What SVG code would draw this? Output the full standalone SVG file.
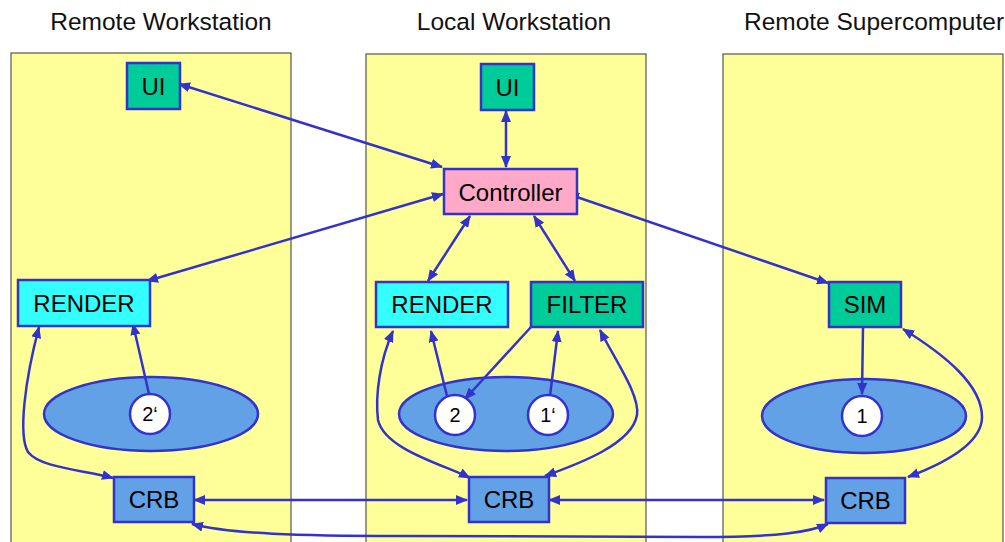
<svg xmlns="http://www.w3.org/2000/svg" width="1005" height="542" viewBox="0 0 1005 542">
<style>
.panel{fill:#FFFF99;stroke:#555;stroke-width:1.2}
.title{font-family:"Liberation Sans",Arial,sans-serif;font-size:24.5px;fill:#111;text-anchor:middle}
.box{stroke:#3333CC;stroke-width:2.5}
.lbl{font-family:"Liberation Sans",Arial,sans-serif;font-size:24px;fill:#000;text-anchor:middle}
.clbl{font-family:"Liberation Sans",Arial,sans-serif;font-size:20px;fill:#000;text-anchor:middle}
.green{fill:#00CC99}
.cyan{fill:#33FFFF}
.pink{fill:#FFA8C8}
.blue{fill:#62A1E6}
.white{fill:#FFFFFF}
.c{fill:none;stroke:#3333CC;stroke-width:2.5}
.d{marker-start:url(#ah);marker-end:url(#ah)}
.s{marker-end:url(#ah)}
</style>
<defs>
<marker id="ah" viewBox="0 0 12 10" refX="11" refY="5" markerWidth="12" markerHeight="10" markerUnits="userSpaceOnUse" orient="auto-start-reverse">
<path d="M0,0 L12,5 L0,10 Z" fill="#3333CC"/>
</marker>
</defs>
<rect width="1005" height="542" fill="#FFFFFF"/>
<g id="panels">
<rect class="panel" x="11" y="53" width="280" height="500"/>
<rect class="panel" x="366" y="54" width="280" height="500"/>
<rect class="panel" x="723" y="54" width="280" height="500"/>
<text class="title" x="161" y="29.5">Remote Workstation</text>
<text class="title" x="514" y="30">Local Workstation</text>
<text class="title" x="874" y="30">Remote Supercomputer</text>
</g>
<g id="ellipses">
<ellipse class="box blue" cx="151" cy="414" rx="107" ry="37"/>
<ellipse class="box blue" cx="506" cy="414" rx="107" ry="37"/>
<ellipse class="box blue" cx="864" cy="416" rx="102" ry="37"/>
</g>
<g id="connectors">
<path class="c d" d="M179,84 L442,167"/>
<path class="c d" d="M506,111 L506,167"/>
<path class="c d" d="M443,194 L147,281"/>
<path class="c d" d="M470,216 L428,281"/>
<path class="c d" d="M534,216 L575,281"/>
<path class="c d" d="M568,194 L828,283"/>
<path class="c s" d="M149,394 L133,324"/>
<path class="c d" d="M39,327 C25,380 18,435 28,452 C40,468 85,470 113,478"/>
<path class="c d" d="M194,500 L467,500"/>
<path class="c d" d="M549,500 L824,500"/>
<path class="c d" d="M192,524 C230,534 300,536 400,536 L700,537 C780,537 810,532 828,524"/>
<path class="c s" d="M447,396 L431,331"/>
<path class="c s" d="M531,327 L465,399"/>
<path class="c s" d="M550,396 L558,331"/>
<path class="c d" d="M393,331 C380,360 375,395 378,420 C385,450 445,465 470,478"/>
<path class="c d" d="M600,330 C615,360 640,395 637,415 C632,445 575,465 545,476"/>
<path class="c s" d="M863,328 L862,394"/>
<path class="c d" d="M903,329 C945,355 982,385 982,417 C982,445 940,465 908,477"/>
</g>
<g id="ui-remote"><rect class="box green" x="127" y="63" width="53" height="46"/><text class="lbl" x="153.5" y="94.5">UI</text></g>
<g id="ui-local"><rect class="box green" x="481" y="64" width="53" height="46"/><text class="lbl" x="507.5" y="95.5">UI</text></g>
<g id="controller"><rect class="box pink" x="444" y="169" width="133" height="45"/><text class="lbl" x="510.5" y="200.5">Controller</text></g>
<g id="render-remote"><rect class="box cyan" x="18" y="280" width="132" height="46"/><text class="lbl" x="84" y="311.5">RENDER</text></g>
<g id="render-local"><rect class="box cyan" x="376" y="282" width="132" height="45"/><text class="lbl" x="442" y="313">RENDER</text></g>
<g id="filter"><rect class="box green" x="531" y="282" width="112" height="45"/><text class="lbl" x="587" y="313">FILTER</text></g>
<g id="sim"><rect class="box green" x="829" y="282" width="72" height="45"/><text class="lbl" x="865" y="313">SIM</text></g>
<g id="data-2p"><circle class="box white" cx="150" cy="414" r="20"/><text class="clbl" x="150" y="421">2‘</text></g>
<g id="data-2"><circle class="box white" cx="455" cy="415" r="20"/><text class="clbl" x="455" y="422">2</text></g>
<g id="data-1p"><circle class="box white" cx="548" cy="415" r="20"/><text class="clbl" x="548" y="422">1‘</text></g>
<g id="data-1"><circle class="box white" cx="862" cy="416" r="20"/><text class="clbl" x="862" y="423">1</text></g>
<g id="crb-remote"><rect class="box blue" x="114" y="477" width="80" height="45"/><text class="lbl" x="154" y="508">CRB</text></g>
<g id="crb-local"><rect class="box blue" x="469" y="477" width="80" height="45"/><text class="lbl" x="509" y="508">CRB</text></g>
<g id="crb-super"><rect class="box blue" x="826" y="478" width="79" height="45"/><text class="lbl" x="865.5" y="509">CRB</text></g>
</svg>
